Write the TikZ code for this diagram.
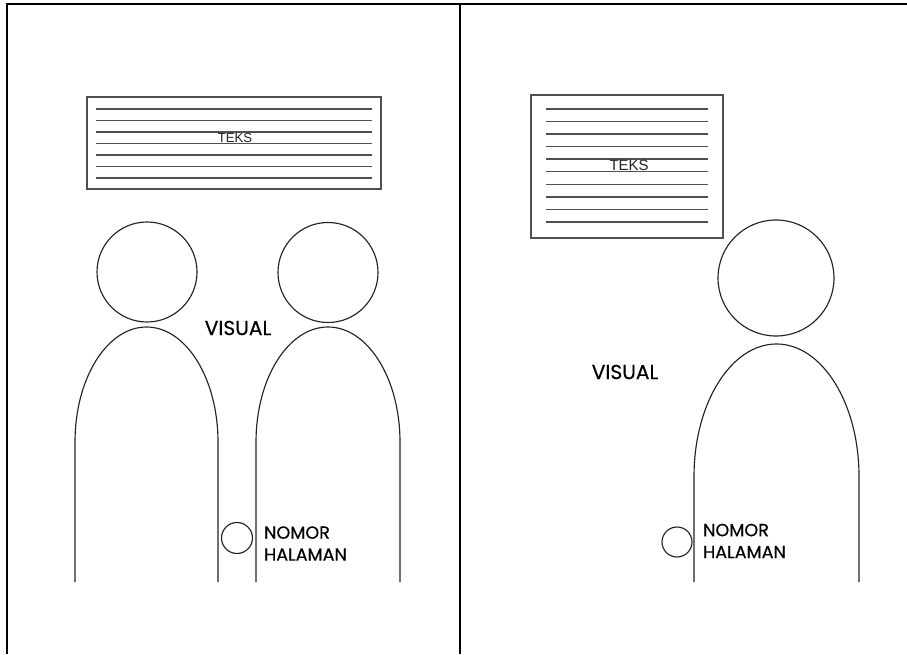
\documentclass[tikz,border=0pt]{standalone}
\usepackage{fontspec}
\setmainfont{Poppins}
\newfontfamily\labelfont{Poppins}[FakeBold=0.5]
\newfontfamily\teksfont{Liberation Sans}
\definecolor{ink}{RGB}{35,35,35}
\definecolor{rulegray}{RGB}{80,80,80}

\begin{document}
\begin{tikzpicture}[x=1cm,y=1cm,every node/.style={inner sep=1pt},
  frameline/.style={black,line width=0.8pt},
  figline/.style={ink,line width=0.65pt},
  textline/.style={rulegray,line width=0.8pt},
  teks/.style={font=\teksfont\fontsize{7.5}{9}\selectfont,text=ink},
  visual/.style={font=\labelfont\fontsize{11.5}{13}\selectfont,text=black},
  pagelabel/.style={font=\labelfont\fontsize{10}{12.5}\selectfont,align=left,anchor=west,text=black}]
\useasboundingbox (0,0) rectangle (18.14,13.08);
% frame
\draw[frameline] (0.14,0.00) -- (0.14,13.00) -- (18.14,13.00);
\draw[frameline] (9.20,0.00) -- (9.20,13.00);
% left page: text block
\draw[textline] (1.74,9.30) rectangle (7.62,11.14);
\draw[textline] (1.92,10.90) -- (7.44,10.90);
\draw[textline] (1.92,10.67) -- (7.44,10.67);
\draw[textline] (1.92,10.44) -- (7.44,10.44);
\draw[textline] (1.92,10.21) -- (7.44,10.21);
\draw[textline] (1.92,9.98) -- (7.44,9.98);
\draw[textline] (1.92,9.75) -- (7.44,9.75);
\draw[textline] (1.92,9.52) -- (7.44,9.52);
\node[teks,anchor=base] (teksL) at (4.70,10.23) {TEKS};
% left page: two figures
\draw[figline] (2.94,7.64) circle (1.00);
\draw[figline] (1.50,1.44) -- (1.50,4.24) arc[start angle=180,end angle=0,x radius=1.43,y radius=2.30] -- (4.36,1.44);
\draw[figline] (6.56,7.63) circle (1.00);
\draw[figline] (5.12,1.44) -- (5.12,4.24) arc[start angle=180,end angle=0,x radius=1.44,y radius=2.30] -- (8.00,1.44);
\node[visual] (visualL) at (4.76,6.52) {VISUAL};
\draw[figline] (4.74,2.32) circle (0.31);
\node[pagelabel] (pageL) at (5.24,2.21) {NOMOR\\HALAMAN};
% right page: text block
\draw[textline] (10.62,8.32) rectangle (14.46,11.18);
\draw[textline] (10.92,10.900) -- (14.16,10.900);
\draw[textline] (10.92,10.649) -- (14.16,10.649);
\draw[textline] (10.92,10.398) -- (14.16,10.398);
\draw[textline] (10.92,10.147) -- (14.16,10.147);
\draw[textline] (10.92,9.896) -- (14.16,9.896);
\draw[textline] (10.92,9.644) -- (14.16,9.644);
\draw[textline] (10.92,9.393) -- (14.16,9.393);
\draw[textline] (10.92,9.142) -- (14.16,9.142);
\draw[textline] (10.92,8.891) -- (14.16,8.891);
\draw[textline] (10.92,8.640) -- (14.16,8.640);
\node[teks,anchor=base,font=\teksfont\fontsize{8.5}{10}\selectfont] (teksR) at (12.58,9.66) {TEKS};
% right page: one figure
\draw[figline] (15.52,7.52) circle (1.16);
\draw[figline] (13.88,1.44) -- (13.88,3.55) arc[start angle=180,end angle=0,x radius=1.65,y radius=2.65] -- (17.18,1.44);
\node[visual] (visualR) at (12.50,5.64) {VISUAL};
\draw[figline] (13.54,2.24) circle (0.30);
\node[pagelabel] (pageR) at (14.02,2.26) {NOMOR\\HALAMAN};
\end{tikzpicture}
\end{document}
